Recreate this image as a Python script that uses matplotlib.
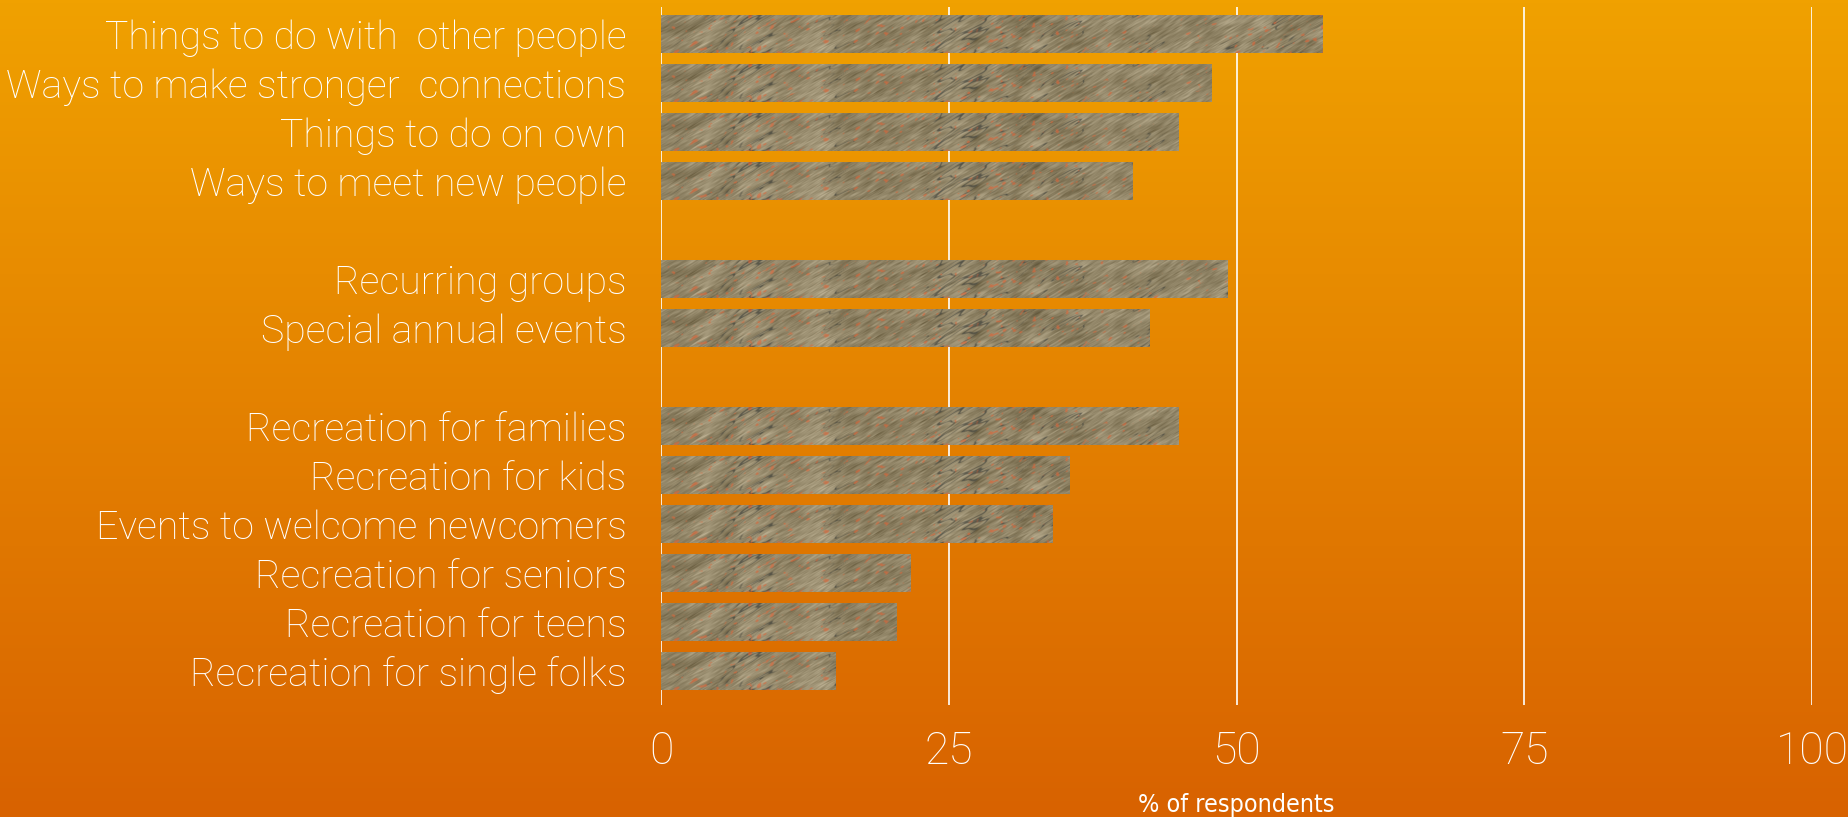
import numpy as np
import matplotlib
matplotlib.use("Agg")
import matplotlib.pyplot as plt

plt.rcParams['font.family'] = ['Roboto', 'DejaVu Sans']

# data
categories = ["Things to do with  other people",
              "Ways to make stronger  connections",
              "Things to do on own",
              "Ways to meet new people",
              "Recurring groups",
              "Special annual events",
              "Recreation for families",
              "Recreation for kids",
              "Events to welcome newcomers",
              "Recreation for seniors",
              "Recreation for teens",
              "Recreation for single folks"]
values = [57.5, 47.8, 45.0, 41.0, 49.2, 42.4, 45.0, 35.5, 34.0, 21.7, 20.5, 15.2]
group_sizes = [4, 2, 6]
xticks = [0, 25, 50, 75, 100]

# slot positions with one empty slot between groups
pos = []
p = 0
for g in group_sizes:
    for i in range(g):
        pos.append(p)
        p += 1
    p += 1

W, H = 1849, 817
fig = plt.figure(figsize=(W / 100, H / 100), dpi=100)

# orange gradient background
bg = fig.add_axes([0, 0, 1, 1], zorder=-1)
top = np.array([240, 161, 0]) / 255
bot = np.array([216, 98, 0]) / 255
t = np.linspace(0, 1, 256)[:, None]
grad = top * (1 - t) + bot * t
bg.imshow(grad[:, None, :].repeat(2, axis=1), aspect='auto', extent=[0, 1, 0, 1])
bg.axis('off')

# stone-like texture for the bars (decoration only)
rng = np.random.default_rng(5)
TH, TW = 80, 2400
ky = np.fft.fftfreq(TH)[:, None]
kx = np.fft.fftfreq(TW)[None, :]
ang = np.deg2rad(-30)
u = kx * np.cos(ang) + ky * np.sin(ang)
v = -kx * np.sin(ang) + ky * np.cos(ang)


def field(su, sv):
    n = rng.normal(size=(TH, TW))
    f = np.fft.ifft2(np.fft.fft2(n) * np.exp(-(u * su) ** 2 - (v * sv) ** 2)).real
    return (f - f.mean()) / f.std()


base = np.array([146, 134, 104]) / 255
grain = field(30, 2.5)
shade = field(80, 30)
lines = field(90, 12)
mask = field(120, 40)
spots = field(14, 7)
tex = np.ones((TH, TW, 3)) * base
tex += (0.04 * grain + 0.03 * shade)[:, :, None]
dark = np.exp(-(lines / 0.13) ** 2) * np.clip((mask - 0.3) * 1.5, 0, 1)
dark = np.clip(dark, 0, 0.7)
tex = tex * (1 - dark[:, :, None]) + dark[:, :, None] * np.array([62, 64, 58]) / 255
org = np.clip((spots - 1.5) * 0.9, 0, 0.6)
tex = tex * (1 - org[:, :, None]) + org[:, :, None] * np.array([225, 100, 55]) / 255
tex = np.clip(tex, 0, 1)

ax = fig.add_axes([661 / W, 1 - 705 / H, (1812 - 661) / W, 698 / H])
ax.set_facecolor('none')

bh = 0.78
bars = ax.barh(pos, values, height=bh, color=tuple(base), zorder=2)
for b, y in zip(bars, pos):
    im = ax.imshow(tex, extent=[0, 100, y + bh / 2, y - bh / 2], aspect='auto',
                   interpolation='bilinear', zorder=3)
    im.set_clip_path(b)

ax.set_xlim(0, 100)
ax.set_ylim(13.69, -0.55)
ax.set_xticks(xticks)
ax.set_yticks(pos)
ax.set_yticklabels(categories)
ax.xaxis.grid(True, color='white', linewidth=1.2, zorder=1)
ax.set_axisbelow(True)
for s in ax.spines.values():
    s.set_visible(False)
ax.tick_params(axis='both', length=0, colors='white')
ax.tick_params(axis='y', labelsize=28.3, pad=25)
ax.tick_params(axis='x', labelsize=32, pad=18)
for lab in ax.get_xticklabels() + ax.get_yticklabels():
    lab.set_fontweight('light')
ax.set_xlabel("% of respondents", color='white', fontsize=18, labelpad=15,
              family=['DejaVu Sans'], fontstretch='condensed')

fig.savefig("out.png", dpi=100)
